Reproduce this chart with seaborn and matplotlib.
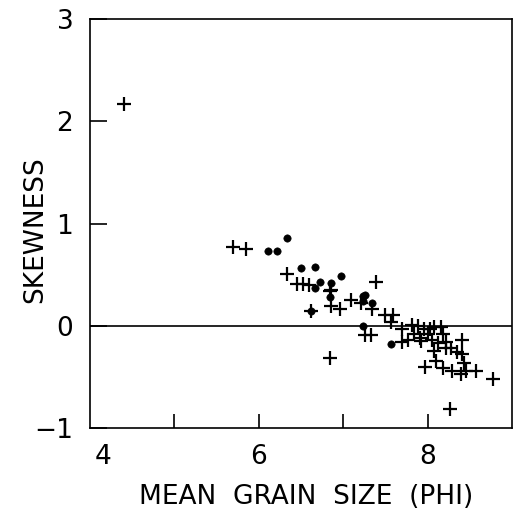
import matplotlib
matplotlib.use("Agg")
import matplotlib.pyplot as plt
import matplotlib.transforms as mtransforms
import seaborn as sns
import pandas as pd

# crosses (+) and filled dots
cross_x = [4.40, 5.69, 5.85, 6.34, 6.45, 6.52, 6.60, 6.86, 6.84, 6.85, 6.96, 6.62,
           6.84, 7.39, 7.09, 7.21, 7.34, 7.50, 7.59, 7.57, 7.26, 7.33, 7.70, 7.70,
           7.77, 7.92, 7.81, 7.89, 7.84, 7.91, 7.96, 8.03, 8.08, 8.00, 8.05, 8.12,
           8.07, 8.10, 7.97, 8.16, 8.18, 8.22, 8.41, 8.22, 8.28, 8.35, 8.41, 8.43,
           8.18, 8.29, 8.39, 8.46, 8.57, 8.77, 8.26]
cross_y = [2.17, 0.77, 0.75, 0.51, 0.41, 0.41, 0.40, 0.35, 0.34, 0.19, 0.16, 0.14,
           -0.32, 0.43, 0.25, 0.22, 0.16, 0.11, 0.11, 0.04, -0.09, -0.09, -0.03, -0.16,
           -0.14, -0.15, 0.01, 0.00, -0.08, -0.12, -0.03, -0.03, -0.01, -0.08, -0.14, -0.17,
           -0.25, -0.34, -0.40, -0.01, -0.08, -0.16, -0.14, -0.22, -0.22, -0.26, -0.28, -0.36,
           -0.41, -0.44, -0.47, -0.44, -0.44, -0.52, -0.81]

dot_x = [6.11, 6.21, 6.34, 6.50, 6.66, 6.97, 6.66, 6.73, 6.86, 6.84, 6.62, 7.23,
         7.24, 7.34, 7.24, 7.57, 7.26]
dot_y = [0.73, 0.73, 0.86, 0.56, 0.57, 0.49, 0.37, 0.43, 0.42, 0.28, 0.14, 0.29,
         0.24, 0.22, 0.00, -0.18, 0.30]

x_ticks = [5, 6, 7, 8]
x_labels = [4, 6, 8]
y_ticks = [-1, 0, 1, 2, 3]

df_cross = pd.DataFrame({"phi": cross_x, "skew": cross_y})
df_dot = pd.DataFrame({"phi": dot_x, "skew": dot_y})

sns.set_style("ticks")
plt.rcParams["font.family"] = ["DejaVu Sans"]
plt.rcParams["text.color"] = "black"
plt.rcParams["axes.labelcolor"] = "black"
plt.rcParams["xtick.color"] = "black"
plt.rcParams["ytick.color"] = "black"

fig = plt.figure(figsize=(5.13, 5.16), dpi=100)
ax = fig.add_axes([90 / 513, 1 - 428 / 516, 422 / 513, 409 / 516])

sns.scatterplot(data=df_cross, x="phi", y="skew", marker="+", s=100,
                color="black", linewidth=1.6, ax=ax)
sns.scatterplot(data=df_dot, x="phi", y="skew", marker="o", s=28,
                color="black", edgecolor="black", ax=ax)

ax.axhline(0, color="black", linewidth=1.2, zorder=0)

ax.set_xlim(4, 9)
ax.set_ylim(-1, 3)

# inward ticks at 5..8, labels only at 4, 6, 8
ax.set_xticks(x_ticks)
ax.set_xticklabels([])
ax.tick_params(axis="x", direction="in", length=10, width=1.2)
for v in x_labels:
    t = ax.text(v, -0.04, str(v), transform=ax.get_xaxis_transform(),
                ha="center", va="top", fontsize=19, color="black")
    if v == 4:
        t.set_transform(ax.get_xaxis_transform() +
                        mtransforms.ScaledTranslation(0.13, 0, fig.dpi_scale_trans))

ax.set_yticks(y_ticks)
ax.set_yticklabels([str(v).replace("-", "\u2212") for v in y_ticks], fontsize=19)
ax.tick_params(axis="y", direction="in", length=12, width=1.2, pad=12)

for s in ax.spines.values():
    s.set_linewidth(1.2)
    s.set_color("black")

ax.set_xlabel("MEAN  GRAIN  SIZE  (PHI)", fontsize=19)
ax.xaxis.set_label_coords(0.512, -0.138)
ax.set_ylabel("SKEWNESS", fontsize=19)
ax.yaxis.set_label_coords(-0.10, 0.484)

fig.savefig("out.png", dpi=100)
